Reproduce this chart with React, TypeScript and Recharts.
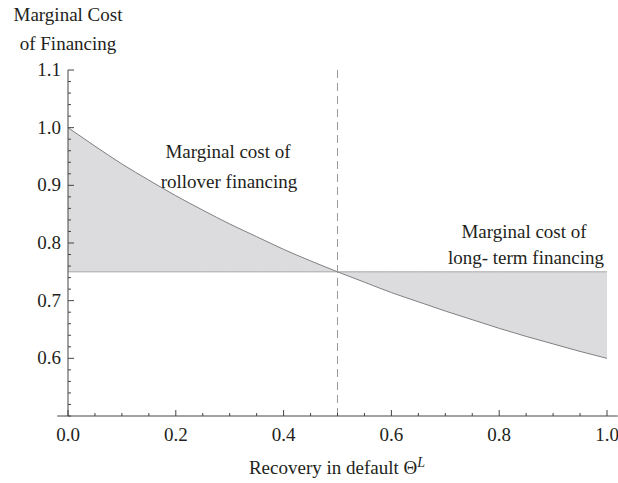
import {
  ComposedChart,
  Area,
  Line,
  XAxis,
  YAxis,
  ReferenceLine,
} from 'recharts'

const recovery = [
  0, 0.05, 0.1, 0.15, 0.2, 0.25, 0.3, 0.35, 0.4, 0.45, 0.5,
  0.55, 0.6, 0.65, 0.7, 0.75, 0.8, 0.85, 0.9, 0.95, 1.0,
]
const rolloverCost = [
  1.0, 0.968, 0.937, 0.909, 0.882, 0.857, 0.833, 0.811, 0.789, 0.769, 0.75,
  0.732, 0.714, 0.698, 0.682, 0.667, 0.652, 0.638, 0.625, 0.612, 0.6,
]
const longTermCost = [
  0.75, 0.75, 0.75, 0.75, 0.75, 0.75, 0.75, 0.75, 0.75, 0.75, 0.75,
  0.75, 0.75, 0.75, 0.75, 0.75, 0.75, 0.75, 0.75, 0.75, 0.75,
]

const xMajor = [0, 0.2, 0.4, 0.6, 0.8, 1.0]
const xTicks = [0, 0.05, 0.1, 0.15, 0.2, 0.25, 0.3, 0.35, 0.4, 0.45, 0.5, 0.55, 0.6, 0.65, 0.7, 0.75, 0.8, 0.85, 0.9, 0.95, 1.0]
const yMajor = [0.6, 0.7, 0.8, 0.9, 1.0, 1.1]
const yTicks = [
  0.5, 0.52, 0.54, 0.56, 0.58, 0.6, 0.62, 0.64, 0.66, 0.68, 0.7, 0.72, 0.74, 0.76, 0.78,
  0.8, 0.82, 0.84, 0.86, 0.88, 0.9, 0.92, 0.94, 0.96, 0.98, 1.0, 1.02, 1.04, 1.06, 1.08, 1.1,
]

const data = recovery.map((x, i) => ({
  x,
  curve: rolloverCost[i],
  flat: longTermCost[i],
  band: [Math.min(rolloverCost[i], longTermCost[i]), Math.max(rolloverCost[i], longTermCost[i])],
}))

const FONT = 'Liberation Serif'
const TXT = '#231f20'
const AXIS = '#444'
const textStyle = { fontFamily: FONT, fontSize: 19, fill: TXT }

const isMajor = (list: number[], v: number) => list.some((m) => Math.abs(m - v) < 1e-6)

function XTick(props: any) {
  const { x, y, payload } = props
  const major = isMajor(xMajor, payload.value)
  return (
    <g>
      <line x1={x} x2={x} y1={y} y2={y - (major ? 6 : 3)} stroke={AXIS} strokeWidth={1} />
      {major && (
        <text x={x} y={y + 25} textAnchor="middle" style={textStyle}>
          {payload.value.toFixed(1)}
        </text>
      )}
    </g>
  )
}

function YTick(props: any) {
  const { x, y, payload } = props
  const major = isMajor(yMajor, payload.value)
  return (
    <g>
      <line x1={x} x2={x + (major ? 6 : 3)} y1={y} y2={y} stroke={AXIS} strokeWidth={1} />
      {major && (
        <text x={x - 7} y={y + 6} textAnchor="end" style={textStyle}>
          {payload.value.toFixed(1)}
        </text>
      )}
    </g>
  )
}

function Label({ x, y, children }: { x: number; y: number; children: any }) {
  return (
    <text x={x} y={y} textAnchor="middle" style={textStyle}>
      {children}
    </text>
  )
}

export default function App() {
  return (
    <div style={{ position: 'absolute', left: 0, top: 0, background: '#fff' }}>
      <ComposedChart
        width={618}
        height={483}
        data={data}
        margin={{ top: 70, right: 11, bottom: 0, left: 8 }}
      >
        <XAxis
          dataKey="x"
          type="number"
          domain={[0, 1]}
          ticks={xTicks}
          interval={0}
          height={67}
          tickSize={0}
          tickMargin={0}
          tickLine={false}
          axisLine={false}
          tick={<XTick />}
        />
        <YAxis
          type="number"
          domain={[0.5, 1.1]}
          ticks={yTicks}
          interval={0}
          width={60}
          tickSize={0}
          tickMargin={0}
          tickLine={false}
          axisLine={{ stroke: AXIS, strokeWidth: 1 }}
          tick={<YTick />}
        />
        <Area
          dataKey="band"
          type="linear"
          stroke="none"
          fill="#dcdcde"
          fillOpacity={1}
          isAnimationActive={false}
        />
        <Line
          dataKey="flat"
          type="linear"
          stroke="#a8a8aa"
          strokeWidth={1}
          dot={false}
          isAnimationActive={false}
        />
        <Line
          dataKey="curve"
          type="monotone"
          stroke="#808082"
          strokeWidth={1}
          dot={false}
          isAnimationActive={false}
        />
        <ReferenceLine x={0.5} stroke="#9a9a9a" strokeDasharray="8 5" strokeWidth={1} />
        <ReferenceLine
          segment={[{ x: -0.02, y: 0.5 }, { x: 1.02, y: 0.5 }]}
          stroke={AXIS}
          strokeWidth={1}
          ifOverflow="visible"
        />
        <Label x={68} y={21}>Marginal Cost</Label>
        <Label x={68} y={50}>of Financing</Label>
        <Label x={228} y={158}>Marginal cost of</Label>
        <Label x={229} y={188}>rollover financing</Label>
        <Label x={524} y={238}>Marginal cost of</Label>
        <Label x={526} y={264}>long- term financing</Label>
        <text x={337} y={474} textAnchor="middle" style={textStyle}>
          Recovery in default Θ
          <tspan dy={-7} fontSize={14} fontStyle="italic">L</tspan>
        </text>
      </ComposedChart>
    </div>
  )
}
